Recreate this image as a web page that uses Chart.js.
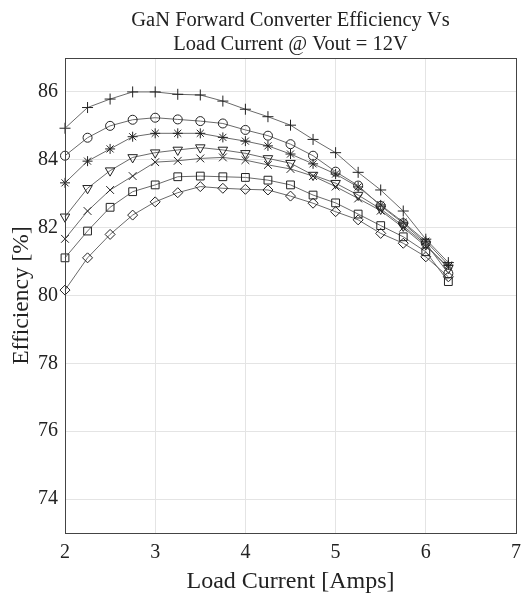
<!DOCTYPE html>
<html>
<head>
<meta charset="utf-8">
<script src="https://cdn.jsdelivr.net/npm/chart.js@4/dist/chart.umd.min.js"></script>
<style>
  html, body { margin: 0; padding: 0; background: #fff; }
  #wrap { width: 525px; height: 596px; }
</style>
</head>
<body>
<div id="wrap"><canvas id="grafico" width="525" height="596"></canvas></div>
<script>
// Load current in amps (x values)
const current = [2, 2.25, 2.5, 2.75, 3, 3.25, 3.5, 3.75, 4, 4.25, 4.5, 4.75, 5, 5.25, 5.5, 5.75, 6, 6.25];

// Efficiency [%] per curve
const effPlus     = [84.93, 85.54, 85.79, 86.00, 86.00, 85.93, 85.91, 85.73, 85.49, 85.27, 85.02, 84.60, 84.21, 83.63, 83.11, 82.49, 81.66, 80.97];
const effCircle   = [84.12, 84.65, 85.00, 85.18, 85.24, 85.19, 85.14, 85.07, 84.88, 84.71, 84.46, 84.12, 83.65, 83.24, 82.64, 82.13, 81.54, 80.65];
const effStar     = [83.32, 83.96, 84.32, 84.68, 84.78, 84.78, 84.78, 84.66, 84.55, 84.41, 84.17, 83.88, 83.58, 83.20, 82.67, 82.16, 81.60, 80.90];
const effTriangle = [82.32, 83.16, 83.68, 84.07, 84.21, 84.29, 84.36, 84.29, 84.19, 84.04, 83.90, 83.55, 83.31, 82.96, 82.55, 82.05, 81.50, 80.80];
const effCross    = [81.67, 82.49, 83.11, 83.52, 83.93, 83.97, 84.04, 84.07, 83.99, 83.85, 83.73, 83.52, 83.21, 82.86, 82.50, 82.00, 81.45, 80.85];
const effSquare   = [81.11, 81.90, 82.60, 83.06, 83.26, 83.50, 83.52, 83.50, 83.48, 83.40, 83.26, 82.96, 82.73, 82.40, 82.06, 81.73, 81.29, 80.41];
const effDiamond  = [80.16, 81.11, 81.80, 82.37, 82.76, 83.03, 83.21, 83.16, 83.13, 83.11, 82.93, 82.72, 82.47, 82.23, 81.83, 81.54, 81.14, 80.55];

// Axis ticks
const xTicks = [2, 3, 4, 5, 6, 7];
const yTicks = [74, 76, 78, 80, 82, 84, 86];

const titleLines = ["GaN Forward Converter Efficiency Vs", "Load Current @ Vout = 12V"];
const serif = "'Liberation Serif', 'DejaVu Serif', serif";

const toPoints = arr => arr.map((v, i) => ({ x: current[i], y: v }));

function serie(data, style, extra) {
    return Object.assign({
        data: toPoints(data),
        borderColor: "#6a6a6a",
        borderWidth: 1,
        pointStyle: style,
        pointRadius: 4.5,
        pointBorderColor: "#222",
        pointBorderWidth: 1,
        pointBackgroundColor: "rgba(255,255,255,0)",
        showLine: true,
        tension: 0,
        clip: false
    }, extra || {});
}

// caja alrededor del área + título encima
const boxAndTitle = {
    id: "boxAndTitle",
    afterDraw(chart) {
        const { ctx, chartArea: a } = chart;
        ctx.save();
        ctx.strokeStyle = "#444";
        ctx.lineWidth = 1;
        ctx.strokeRect(a.left + 0.5, a.top + 0.5, a.right - a.left, a.bottom - a.top);
        ctx.fillStyle = "#222";
        ctx.font = "20.5px " + serif;
        ctx.textAlign = "center";
        ctx.textBaseline = "alphabetic";
        const cx = (a.left + a.right) / 2;
        ctx.fillText(titleLines[0], cx, 26);
        ctx.fillText(titleLines[1], cx, 50);
        ctx.restore();
    }
};

new Chart(document.getElementById("grafico").getContext("2d"), {
    type: "scatter",
    data: {
        datasets: [
            serie(effPlus, "cross", { pointRadius: 5.5 }),
            serie(effCircle, "circle"),
            serie(effStar, "star", { pointRadius: 5 }),
            serie(effTriangle, "triangle", { rotation: 180, pointRadius: 5.5 }),
            serie(effCross, "crossRot", { pointRadius: 5.5 }),
            serie(effSquare, "rect", { pointRadius: 5.5 }),
            serie(effDiamond, "rectRot", { pointRadius: 5 })
        ]
    },
    options: {
        responsive: false,
        animation: false,
        layout: { padding: { top: 58, right: 9, left: 0, bottom: 0 } },
        plugins: { legend: { display: false }, tooltip: { enabled: false } },
        scales: {
            x: {
                type: "linear",
                min: 2, max: 7,
                afterFit: s => { s.height = 63; s.paddingLeft = 0; s.paddingRight = 0; },
                afterBuildTicks: s => { s.ticks = xTicks.map(v => ({ value: v })); },
                ticks: { color: "#222", font: { family: serif, size: 20 }, padding: 8 },
                grid: { color: "#e4e4e4", drawTicks: false },
                border: { color: "#444" },
                title: { display: true, text: "Load Current [Amps]", color: "#222",
                         font: { family: serif, size: 24 }, padding: { top: 0, bottom: 0 } }
            },
            y: {
                type: "linear",
                min: 73, max: 87,
                afterFit: s => { s.width = 65; s.paddingTop = 0; s.paddingBottom = 0; },
                afterBuildTicks: s => { s.ticks = yTicks.map(v => ({ value: v })); },
                ticks: { color: "#222", font: { family: serif, size: 20 }, padding: 7 },
                grid: { color: "#e4e4e4", drawTicks: false },
                border: { color: "#444" },
                title: { display: true, text: "Efficiency [%]", color: "#222",
                         font: { family: serif, size: 23.5 }, padding: { top: 8, bottom: 0 } }
            }
        }
    },
    plugins: [boxAndTitle]
});
</script>
</body>
</html>
